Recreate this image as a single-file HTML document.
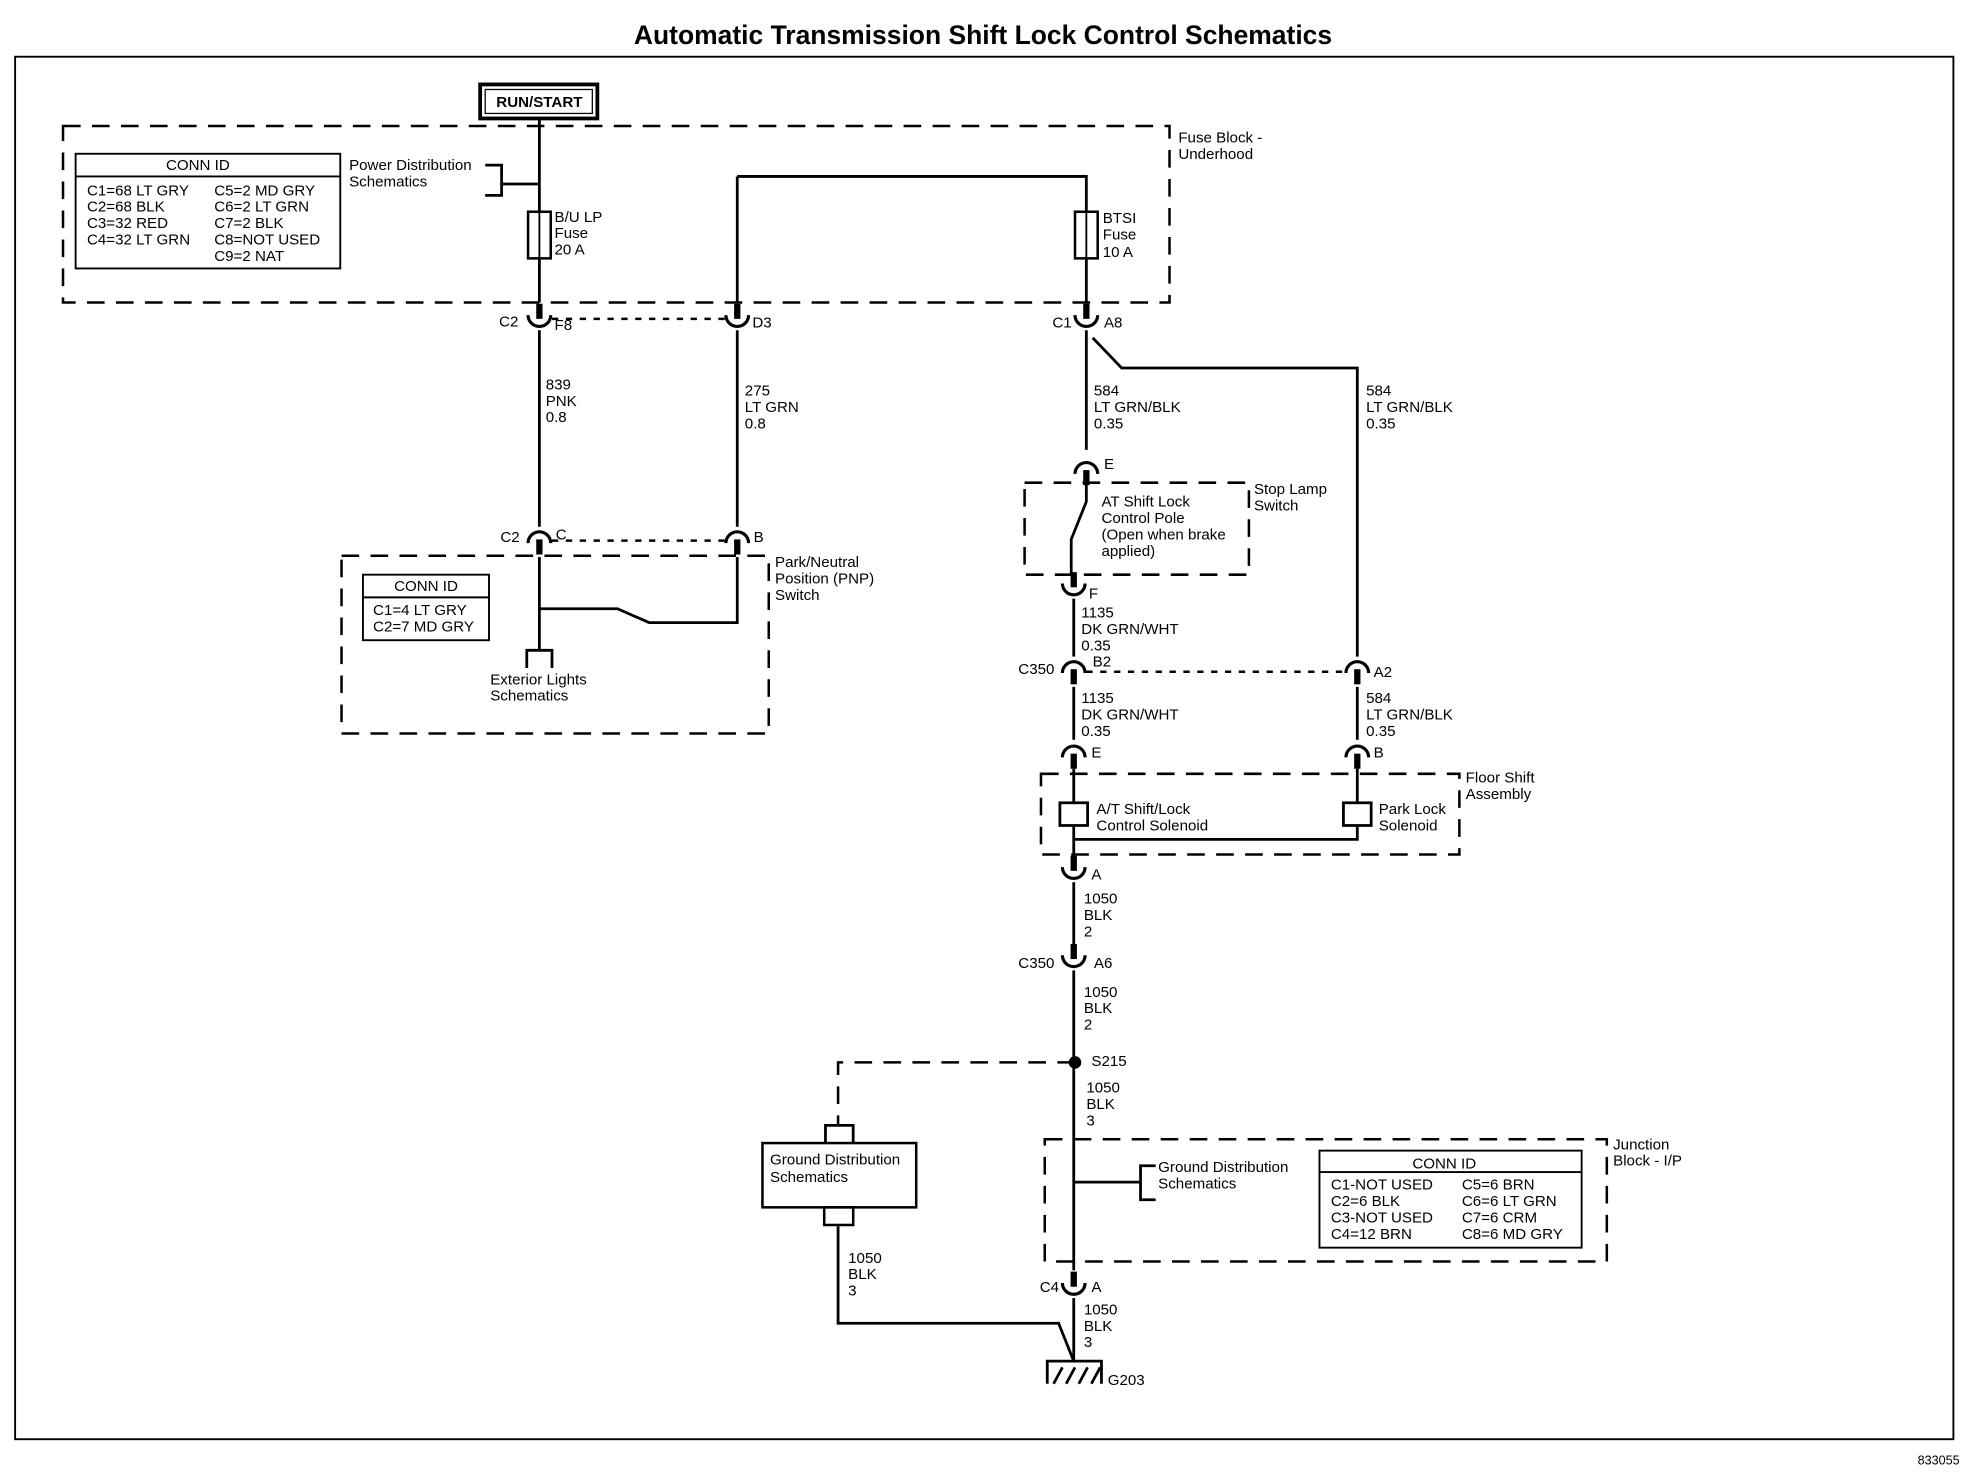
<!DOCTYPE html>
<html><head><meta charset="utf-8"><style>
html,body{margin:0;padding:0;background:#fff}
svg{display:block}
text{font-family:"Liberation Sans",Arial,sans-serif;font-size:12px;fill:#000}
</style></head><body>
<svg width="1966" height="1472" viewBox="0 0 1560 1168" xmlns="http://www.w3.org/2000/svg">
<defs>
<g id="cd"><path d="M-9,6 A9,9 0 0 1 9,6" fill="none" stroke="#000" stroke-width="2.5"/><line x1="0" y1="3" x2="0" y2="15" stroke="#000" stroke-width="5"/></g>
<g id="cu"><path d="M-9,-6 A9,9 0 0 0 9,-6" fill="none" stroke="#000" stroke-width="2.5"/><line x1="0" y1="-3" x2="0" y2="-15" stroke="#000" stroke-width="5"/></g>
</defs>
<text x="780" y="35" text-anchor="middle" style="font-size:21px;font-weight:bold">Automatic Transmission Shift Lock Control Schematics</text>
<rect x="12" y="45" width="1538" height="1097" fill="none" stroke="#000" stroke-width="1.5"/>
<text x="1555" y="1162" text-anchor="end" style="font-size:10px">833055</text>

<g fill="none" stroke="#000" stroke-width="2" stroke-dasharray="14,9">
<rect x="50" y="100" width="878" height="140"/>
<rect x="271" y="441" width="339" height="141"/>
<rect x="813" y="383" width="178" height="73"/>
<rect x="826" y="614" width="332" height="64"/>
<rect x="829" y="904" width="446" height="97"/>
<path d="M853,843 H665 V893"/>
</g>
<g fill="none" stroke="#000" stroke-width="2" stroke-dasharray="5,6">
<line x1="438" y1="253" x2="578" y2="253"/>
<line x1="438" y1="429" x2="578" y2="429"/>
<line x1="862" y1="533" x2="1068" y2="533"/>
</g>

<!-- RUN/START -->
<rect x="381" y="67" width="93" height="27" fill="none" stroke="#000" stroke-width="3"/>
<rect x="385" y="71" width="85" height="19" fill="none" stroke="#000" stroke-width="1"/>
<text x="428" y="85" text-anchor="middle" style="font-weight:bold;font-size:12px">RUN/START</text>

<!-- conn id tables -->
<rect x="60" y="122" width="210" height="91" fill="none" stroke="#000" stroke-width="1.5"/>
<line x1="60" y1="140" x2="270" y2="140" stroke="#000" stroke-width="1.5"/>
<text x="157" y="135" text-anchor="middle">CONN ID</text>
<text x="69" y="155">C1=68 LT GRY</text><text x="69" y="168">C2=68 BLK</text><text x="69" y="181">C3=32 RED</text><text x="69" y="194">C4=32 LT GRN</text>
<text x="170" y="155">C5=2 MD GRY</text><text x="170" y="168">C6=2 LT GRN</text><text x="170" y="181">C7=2 BLK</text><text x="170" y="194">C8=NOT USED</text><text x="170" y="207">C9=2 NAT</text>

<rect x="288" y="456" width="100" height="52" fill="none" stroke="#000" stroke-width="1.5"/>
<line x1="288" y1="474" x2="388" y2="474" stroke="#000" stroke-width="1.5"/>
<text x="338" y="469" text-anchor="middle">CONN ID</text>
<text x="296" y="488">C1=4 LT GRY</text><text x="296" y="501">C2=7 MD GRY</text>

<rect x="1047" y="913" width="208" height="77" fill="none" stroke="#000" stroke-width="1.5"/>
<line x1="1047" y1="930" x2="1255" y2="930" stroke="#000" stroke-width="1.5"/>
<text x="1146" y="927" text-anchor="middle">CONN ID</text>
<text x="1056" y="944">C1-NOT USED</text><text x="1056" y="957">C2=6 BLK</text><text x="1056" y="970">C3-NOT USED</text><text x="1056" y="983">C4=12 BRN</text>
<text x="1160" y="944">C5=6 BRN</text><text x="1160" y="957">C6=6 LT GRN</text><text x="1160" y="970">C7=6 CRM</text><text x="1160" y="983">C8=6 MD GRY</text>

<!-- wires -->
<g fill="none" stroke="#000" stroke-width="2.2">
<line x1="428" y1="94" x2="428" y2="168"/>
<line x1="428" y1="205" x2="428" y2="240"/>
<line x1="428" y1="262" x2="428" y2="418"/>
<line x1="428" y1="442" x2="428" y2="515"/>
<path d="M428,483 H490 L515,494 H585 V442"/>
<path d="M418,530 V516 H438 V530"/>
<path d="M428,146 H398 M385,131 H398 V155 H385" />
<line x1="585" y1="140" x2="585" y2="240"/>
<line x1="585" y1="262" x2="585" y2="418"/>
<path d="M585,140 H862 V168"/>
<line x1="862" y1="205" x2="862" y2="240"/>
<line x1="862" y1="262" x2="862" y2="357"/>
<path d="M867,268 L890,292 H1077 V521"/>
<path d="M862,383 V398 L850,428 V456"/>
<line x1="852" y1="475" x2="852" y2="521"/>
<line x1="852" y1="545" x2="852" y2="587"/>
<line x1="852" y1="610" x2="852" y2="637"/>
<line x1="852" y1="655" x2="852" y2="680"/>
<path d="M852,666 H1077 V655"/>
<line x1="1077" y1="545" x2="1077" y2="587"/>
<line x1="1077" y1="610" x2="1077" y2="637"/>
<line x1="852" y1="700" x2="852" y2="750"/>
<line x1="852" y1="770" x2="852" y2="1008"/>
<path d="M852,938 H905 M917,925 H905 V952 H917"/>
<line x1="852" y1="1030" x2="852" y2="1080"/>
<path d="M665,973 V1050 H840 L852,1080"/>
<path d="M831,1098 V1080 H874 V1098"/>
<path d="M836,1098 L843,1085 M846,1098 L853,1085 M856,1098 L863,1085 M866,1098 L873,1085"/>
<path d="M655,907 V893 H677 V907"/>
</g>
<circle cx="853" cy="843" r="5"/>
<!-- fuses -->
<rect x="419" y="168" width="18" height="37" fill="none" stroke="#000" stroke-width="2"/>
<line x1="428" y1="168" x2="428" y2="205" stroke="#000" stroke-width="1.5"/>
<rect x="853" y="168" width="18" height="37" fill="none" stroke="#000" stroke-width="2"/>
<line x1="862" y1="168" x2="862" y2="205" stroke="#000" stroke-width="1.5"/>
<!-- solenoids -->
<rect x="841" y="637" width="22" height="18" fill="#fff" stroke="#000" stroke-width="2.2"/>
<rect x="1066" y="637" width="22" height="18" fill="#fff" stroke="#000" stroke-width="2.2"/>
<!-- ground box -->
<rect x="605" y="907" width="122" height="51" fill="#fff" stroke="#000" stroke-width="2"/>
<rect x="654" y="958" width="23" height="14" fill="none" stroke="#000" stroke-width="2"/>

<!-- connectors -->
<use href="#cu" x="428" y="256"/><use href="#cu" x="585" y="256"/><use href="#cu" x="862" y="256"/>
<use href="#cd" x="428" y="425"/><use href="#cd" x="585" y="425"/>
<use href="#cd" x="862" y="370"/>
<use href="#cu" x="852" y="469"/>
<use href="#cd" x="852" y="528"/><use href="#cd" x="1077" y="528"/>
<use href="#cd" x="852" y="595"/><use href="#cd" x="1077" y="595"/>
<use href="#cu" x="852" y="694"/>
<use href="#cu" x="852" y="764"/>
<use href="#cu" x="852" y="1024"/>

<!-- labels -->
<text x="935" y="113">Fuse Block -</text><text x="935" y="126">Underhood</text>
<text x="277" y="135">Power Distribution</text><text x="277" y="148">Schematics</text>
<text x="440" y="176">B/U LP</text><text x="440" y="189">Fuse</text><text x="440" y="202">20 A</text>
<text x="875" y="177">BTSI</text><text x="875" y="190">Fuse</text><text x="875" y="204">10 A</text>
<text x="396" y="259">C2</text><text x="440" y="262">F8</text><text x="597" y="260">D3</text>
<text x="835" y="260">C1</text><text x="876" y="260">A8</text>
<text x="433" y="309">839</text><text x="433" y="322">PNK</text><text x="433" y="335">0.8</text>
<text x="591" y="314">275</text><text x="591" y="327">LT GRN</text><text x="591" y="340">0.8</text>
<text x="868" y="314">584</text><text x="868" y="327">LT GRN/BLK</text><text x="868" y="340">0.35</text>
<text x="1084" y="314">584</text><text x="1084" y="327">LT GRN/BLK</text><text x="1084" y="340">0.35</text>
<text x="876" y="372">E</text>
<text x="995" y="392">Stop Lamp</text><text x="995" y="405">Switch</text>
<text x="874" y="402">AT Shift Lock</text><text x="874" y="415">Control Pole</text><text x="874" y="428">(Open when brake</text><text x="874" y="441">applied)</text>
<text x="397" y="430">C2</text><text x="441" y="428">C</text><text x="598" y="430">B</text>
<text x="615" y="450">Park/Neutral</text><text x="615" y="463">Position (PNP)</text><text x="615" y="476">Switch</text>
<text x="389" y="543">Exterior Lights</text><text x="389" y="556">Schematics</text>
<text x="864" y="475">F</text>
<text x="858" y="490">1135</text><text x="858" y="503">DK GRN/WHT</text><text x="858" y="516">0.35</text>
<text x="808" y="535">C350</text><text x="867" y="529">B2</text><text x="1090" y="537">A2</text>
<text x="858" y="558">1135</text><text x="858" y="571">DK GRN/WHT</text><text x="858" y="584">0.35</text>
<text x="1084" y="558">584</text><text x="1084" y="571">LT GRN/BLK</text><text x="1084" y="584">0.35</text>
<text x="866" y="601">E</text><text x="1090" y="601">B</text>
<text x="1163" y="621">Floor Shift</text><text x="1163" y="634">Assembly</text>
<text x="870" y="646">A/T Shift/Lock</text><text x="870" y="659">Control Solenoid</text>
<text x="1094" y="646">Park Lock</text><text x="1094" y="659">Solenoid</text>
<text x="866" y="698">A</text>
<text x="860" y="717">1050</text><text x="860" y="730">BLK</text><text x="860" y="743">2</text>
<text x="808" y="768">C350</text><text x="868" y="768">A6</text>
<text x="860" y="791">1050</text><text x="860" y="804">BLK</text><text x="860" y="817">2</text>
<text x="866" y="846">S215</text>
<text x="862" y="867">1050</text><text x="862" y="880">BLK</text><text x="862" y="893">3</text>
<text x="1280" y="912">Junction</text><text x="1280" y="925">Block - I/P</text>
<text x="919" y="930">Ground Distribution</text><text x="919" y="943">Schematics</text>
<text x="611" y="924">Ground Distribution</text><text x="611" y="938">Schematics</text>
<text x="673" y="1002">1050</text><text x="673" y="1015">BLK</text><text x="673" y="1028">3</text>
<text x="825" y="1025">C4</text><text x="866" y="1025">A</text>
<text x="860" y="1043">1050</text><text x="860" y="1056">BLK</text><text x="860" y="1069">3</text>
<text x="879" y="1099">G203</text>
</svg>
</body></html>
